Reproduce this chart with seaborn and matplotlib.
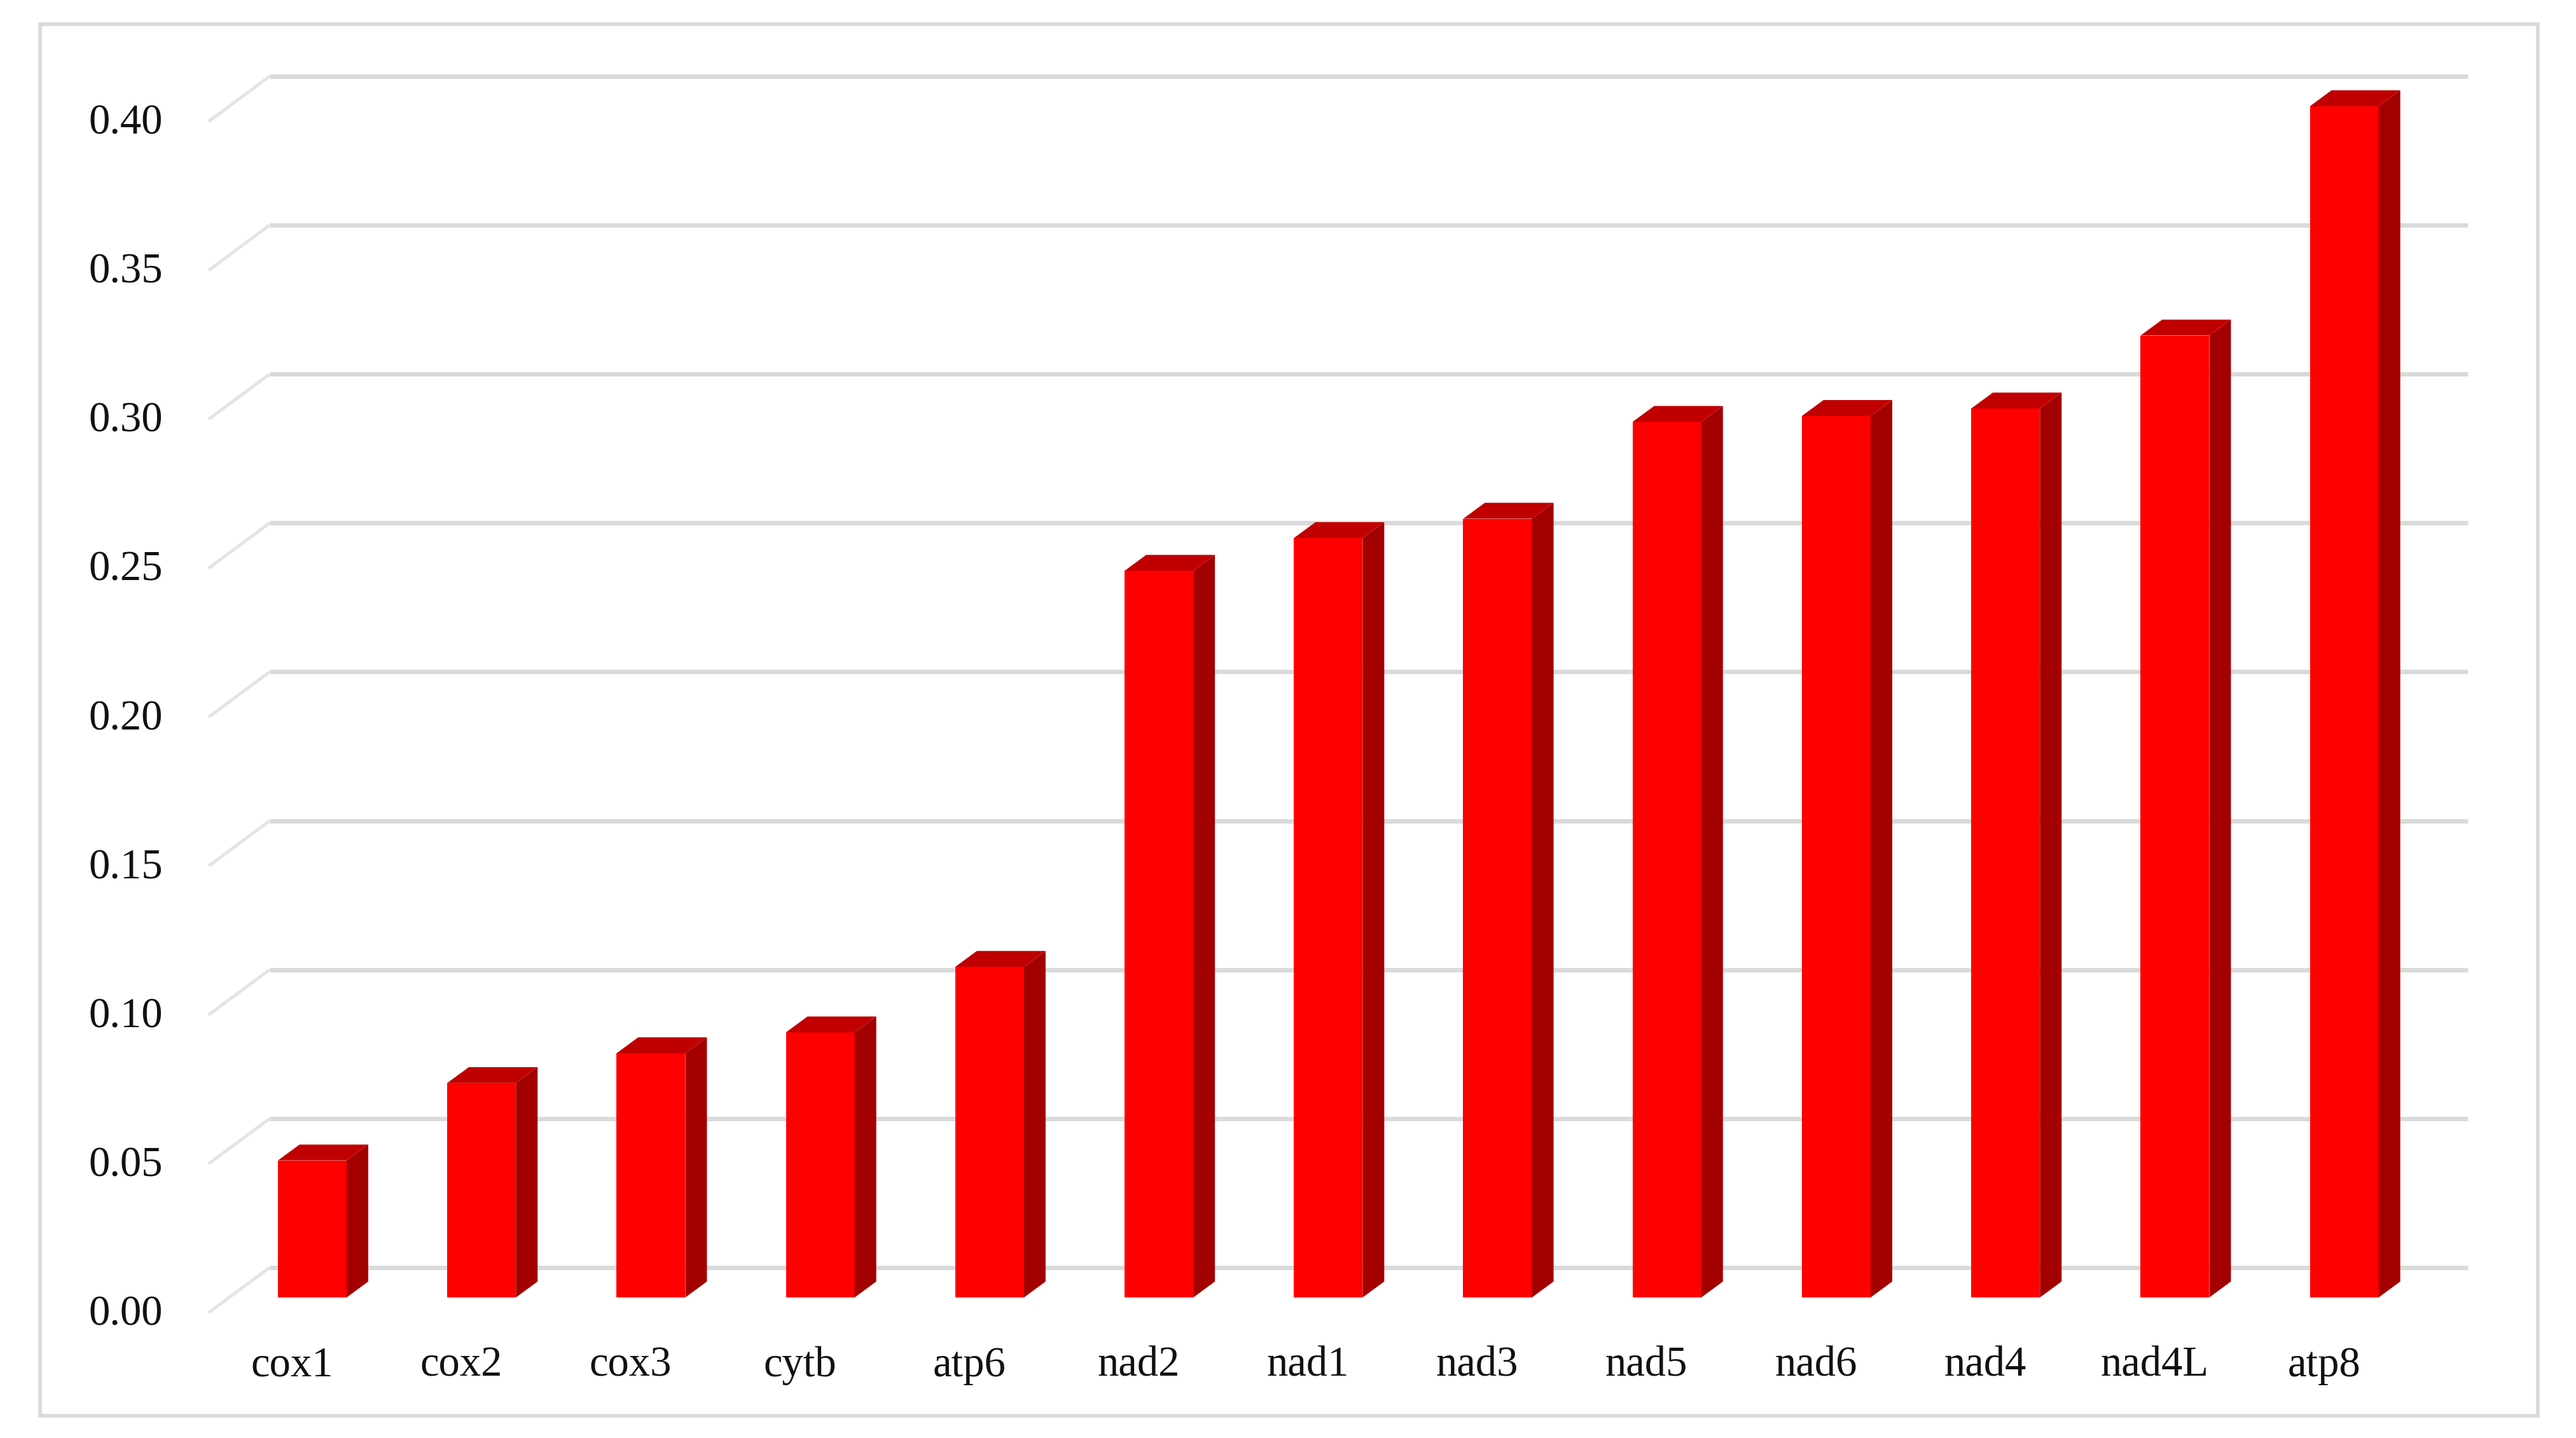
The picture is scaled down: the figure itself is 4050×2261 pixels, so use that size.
import matplotlib.pyplot as plt
import matplotlib.patches as mpatches
from matplotlib.transforms import ScaledTranslation
import numpy as np
import pandas as pd
import seaborn as sns


# ==========================================================
# DATA
# ==========================================================

genes = ["cox1", "cox2", "cox3", "cytb", "atp6", "nad2", "nad1",
         "nad3", "nad5", "nad6", "nad4", "nad4L", "atp8"]
values = [0.046, 0.072, 0.082, 0.089, 0.111, 0.244, 0.255,
          0.2615, 0.294, 0.296, 0.2985, 0.323, 0.400]
y_ticks = [0.00, 0.05, 0.10, 0.15, 0.20, 0.25, 0.30, 0.35, 0.40]
y_labels = ["0.00", "0.05", "0.10", "0.15", "0.20", "0.25", "0.30", "0.35", "0.40"]

df = pd.DataFrame({"gene": genes, "value": values})


# ==========================================================
# CONFIG
# ==========================================================

W, H = 4050, 2261
DPI = 100

# fake 3d: depth of the bars and of the floor, in data units
BAR_DX = 34 / 266.2
BAR_DY = 25 / 4682
WALL_BACK = 47 / 4682
WALL_FRONT = 24 / 4682
WALL_X_LEFT = -0.612
WALL_X_BACK = -0.2517
WALL_X_RIGHT = 12.73

GRID = "#DADADA"
DIAG = "#E4E4E4"
FRONT = "#FF0000"
SIDE = "#A30000"
TOP = "#C00000"

sns.set_theme(style="white")
plt.rcParams["font.family"] = ["Liberation Serif", "DejaVu Serif"]


# ==========================================================
# PLOT
# ==========================================================

fig = plt.figure(figsize=(W / DPI, H / DPI), dpi=DPI, facecolor="white")
ax = fig.add_axes([328 / W, 1 - 2064 / H, (3880 - 328) / W, (2064 - 120) / H])

sns.barplot(data=df, x="gene", y="value", color=FRONT, saturation=1,
            width=0.406, linewidth=0, zorder=3, ax=ax)

# side and top faces, taken from the bars seaborn drew
for bar in list(ax.patches):
    x0, x1 = bar.get_x(), bar.get_x() + bar.get_width()
    top = bar.get_height()
    ax.fill([x1, x1 + BAR_DX, x1 + BAR_DX, x1],
            [0, BAR_DY, top + BAR_DY, top],
            color=SIDE, lw=0, zorder=3)
    ax.fill([x0, x1, x1 + BAR_DX, x0 + BAR_DX],
            [top, top, top + BAR_DY, top + BAR_DY],
            color=TOP, lw=0, zorder=3)

# wall gridlines, the short slanted part is fainter
for v in y_ticks:
    ax.plot([WALL_X_LEFT, WALL_X_BACK],
            [v - WALL_FRONT, v + WALL_BACK],
            color=DIAG, lw=3.6, zorder=1, clip_on=False,
            solid_capstyle="butt")
    ax.plot([WALL_X_BACK, WALL_X_RIGHT],
            [v + WALL_BACK, v + WALL_BACK],
            color=GRID, lw=5, zorder=1, clip_on=False,
            solid_capstyle="butt")

ax.set_xlim(WALL_X_LEFT, WALL_X_RIGHT)
ax.set_ylim(-WALL_FRONT, 0.40 + WALL_BACK)
ax.set_xlabel("")
ax.set_ylabel("")
ax.set_yticks(np.array(y_ticks) - WALL_FRONT, labels=y_labels)
ax.tick_params(axis="y", length=0, pad=52, labelsize=48, colors="#111111")
ax.tick_params(axis="x", length=0, pad=38, labelsize=48, colors="#111111")

# category labels sit on the front plane, left of the bar centre
shift = ScaledTranslation(-32 / DPI, 0, fig.dpi_scale_trans)
for lab in ax.get_xticklabels():
    lab.set_transform(lab.get_transform() + shift)

# y labels sit a little above the front end of the gridlines
lift = ScaledTranslation(0, 4 / DPI, fig.dpi_scale_trans)
for lab in ax.get_yticklabels():
    lab.set_transform(lab.get_transform() + lift)

sns.despine(ax=ax, left=True, bottom=True)

# outer chart frame
fig.add_artist(mpatches.Rectangle(
    (63 / W, 1 - 2226 / H), (3990 - 63) / W, (2226 - 38) / H,
    transform=fig.transFigure, fill=False, edgecolor=GRID, lw=4.2))

plt.savefig("out.png", dpi=DPI)
plt.close()
